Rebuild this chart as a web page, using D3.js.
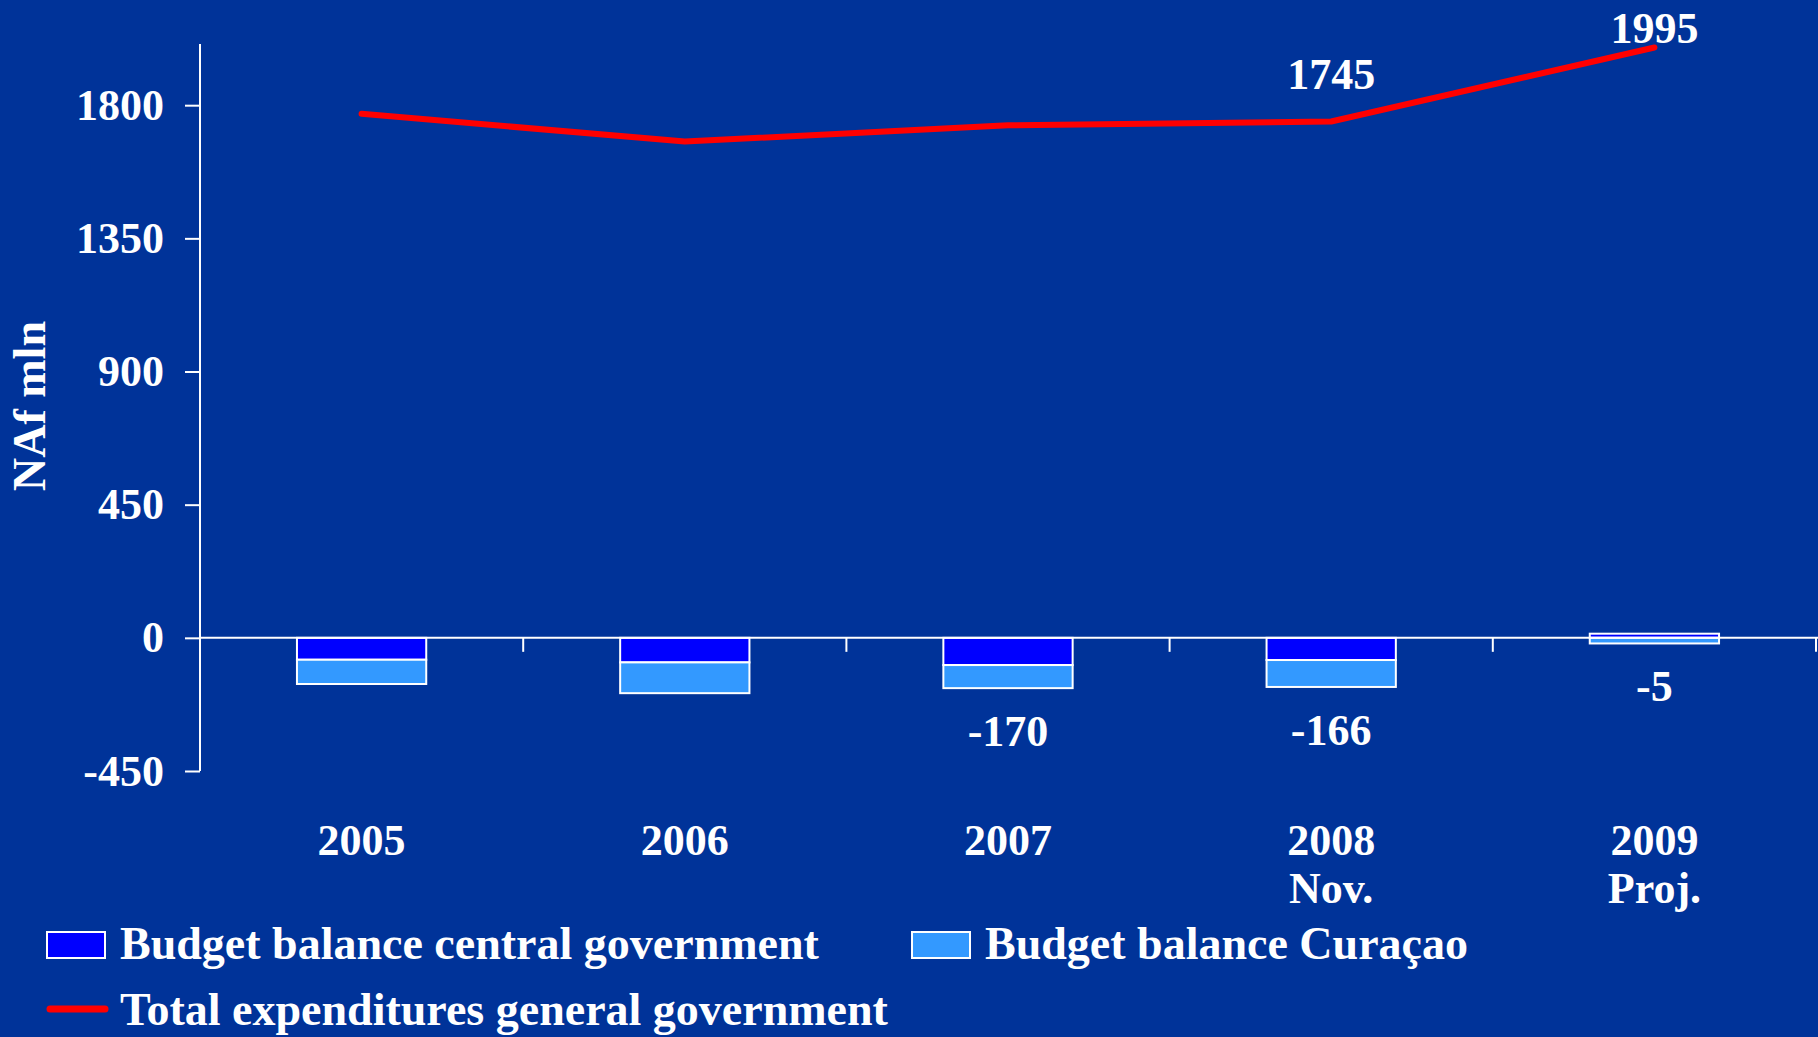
<!DOCTYPE html>
<html>
<head>
<meta charset="utf-8">
<script src="https://cdn.jsdelivr.net/npm/d3@7"></script>
<style>
  html, body { margin: 0; padding: 0; background: #003399; }
  svg { display: block; }
  text { font-family: "Liberation Serif", "DejaVu Serif", serif; font-weight: bold; fill: #ffffff; }
</style>
</head>
<body>
<svg id="chart" width="1818" height="1037"></svg>
<script>
// Fiscal figures, NAf million
const categories = [["2005"], ["2006"], ["2007"], ["2008", "Nov."], ["2009", "Proj."]];
const centralBalance = [-74, -83, -92, -75, 14];
const curacaoBalance = [-82, -104, -78, -91, -19];
const totalExpenditures = [1771, 1677, 1732, 1745, 1995];
const showBalanceTotal = [false, false, true, true, true];
const showExpenditureLabel = [false, false, false, true, true];
const yTicks = [-450, 0, 450, 900, 1350, 1800];
const seriesNames = ["Budget balance central government", "Budget balance Curaçao", "Total expenditures general government"];

const colors = { central: "#0000ff", curacao: "#3399ff", line: "#ff0000", axis: "#ffffff" };

// plain hyphen for negative numbers
const fmt = d3.formatLocale({ decimal: ".", thousands: ",", grouping: [3], currency: ["", ""], minus: "-" }).format("d");

const svg = d3.select("#chart");
const plot = { left: 200, right: 1816, top: 46, bottom: 771 };

const x = d3.scaleBand()
  .domain(d3.range(categories.length))
  .range([plot.left, plot.right])
  .padding(0);

const y = d3.scaleLinear()
  .domain([-450, 2000])
  .range([plot.bottom, plot.top]);

const rows = categories.map((c, i) => ({ i, central: centralBalance[i], curacao: curacaoBalance[i] }));
const stacked = d3.stack()
  .keys(["central", "curacao"])
  .offset(d3.stackOffsetDiverging)(rows);

const barW = x.bandwidth() * 0.4;
const cx = i => x(i) + x.bandwidth() / 2;

// Stacked budget balance bars
const seriesColor = { central: colors.central, curacao: colors.curacao };
svg.append("g").selectAll("g")
  .data(stacked)
  .join("g")
  .attr("fill", d => seriesColor[d.key])
  .selectAll("rect")
  .data(d => d)
  .join("rect")
  .attr("x", (d, i) => cx(i) - barW / 2)
  .attr("width", barW)
  .attr("y", d => y(Math.max(d[0], d[1])))
  .attr("height", d => Math.abs(y(d[0]) - y(d[1])))
  .attr("stroke", "#ffffff")
  .attr("stroke-width", 2);

// Y axis
const yAxis = d3.axisLeft(y)
  .tickValues(yTicks)
  .tickSize(15)
  .tickSizeOuter(0)
  .tickPadding(21)
  .tickFormat(fmt);

const gy = svg.append("g")
  .attr("transform", `translate(${plot.left},0)`)
  .call(yAxis);
gy.select(".domain").attr("stroke", colors.axis).attr("stroke-width", 2)
  .attr("d", `M0,${plot.bottom}V${y.range()[1] - 2}`);
gy.selectAll(".tick line").attr("stroke", colors.axis).attr("stroke-width", 2);
gy.selectAll(".tick text")
  .attr("fill", "#ffffff")
  .style("font-size", "44px")
  .style("font-family", "\"Liberation Serif\", serif")
  .style("font-weight", "bold");

// Zero line with category separators
const y0 = y(0);
svg.append("line")
  .attr("x1", plot.left).attr("x2", 1818)
  .attr("y1", y0).attr("y2", y0)
  .attr("stroke", colors.axis).attr("stroke-width", 2);

const step = x.step();
svg.append("g").selectAll("line")
  .data(d3.range(categories.length + 1))
  .join("line")
  .attr("x1", i => plot.left + i * step)
  .attr("x2", i => plot.left + i * step)
  .attr("y1", y0).attr("y2", y0 + 14)
  .attr("stroke", colors.axis).attr("stroke-width", 2);

// Category labels
const catG = svg.append("g");
categories.forEach((lines, i) => {
  lines.forEach((t, k) => {
    catG.append("text")
      .attr("x", cx(i))
      .attr("y", plot.bottom + 84 + k * 48)
      .attr("text-anchor", "middle")
      .style("font-size", "44px")
      .text(t);
  });
});

// Balance total labels below the bars
svg.append("g").selectAll("text")
  .data(rows.filter(r => showBalanceTotal[r.i]))
  .join("text")
  .attr("x", r => cx(r.i))
  .attr("y", r => y(Math.min(0, r.central) + Math.min(0, r.curacao)) + 58)
  .attr("text-anchor", "middle")
  .style("font-size", "44px")
  .text(r => fmt(r.central + r.curacao));

// Total expenditures line
const line = d3.line()
  .x((d, i) => cx(i))
  .y(d => y(d));

svg.append("path")
  .datum(totalExpenditures)
  .attr("d", line)
  .attr("fill", "none")
  .attr("stroke", colors.line)
  .attr("stroke-width", 6)
  .attr("stroke-linecap", "round")
  .attr("stroke-linejoin", "round");

svg.append("g").selectAll("text")
  .data(totalExpenditures.map((v, i) => ({ v, i })).filter(d => showExpenditureLabel[d.i]))
  .join("text")
  .attr("x", d => cx(d.i))
  .attr("y", d => Math.max(y(d.v) - 32, 43))
  .attr("text-anchor", "middle")
  .style("font-size", "44px")
  .text(d => fmt(d.v));

// Y axis title
svg.append("text")
  .attr("transform", "translate(45,406) rotate(-90)")
  .attr("text-anchor", "middle")
  .style("font-size", "46px")
  .text("NAf mln");

// Legend
const legend = svg.append("g");
const legendItems = [
  { type: "rect", color: colors.central, name: seriesNames[0], x: 47, y: 959 },
  { type: "rect", color: colors.curacao, name: seriesNames[1], x: 912, y: 959 },
  { type: "line", color: colors.line, name: seriesNames[2], x: 47, y: 1025 }
];
legendItems.forEach(it => {
  if (it.type === "rect") {
    legend.append("rect")
      .attr("x", it.x).attr("y", it.y - 27)
      .attr("width", 58).attr("height", 26)
      .attr("fill", it.color)
      .attr("stroke", "#ffffff").attr("stroke-width", 2);
  } else {
    legend.append("line")
      .attr("x1", it.x + 3).attr("x2", it.x + 58)
      .attr("y1", it.y - 16).attr("y2", it.y - 16)
      .attr("stroke", it.color).attr("stroke-width", 7)
      .attr("stroke-linecap", "round");
  }
  legend.append("text")
    .attr("x", it.x + 73)
    .attr("y", it.y)
    .style("font-size", "46px")
    .text(it.name);
});
</script>
</body>
</html>
